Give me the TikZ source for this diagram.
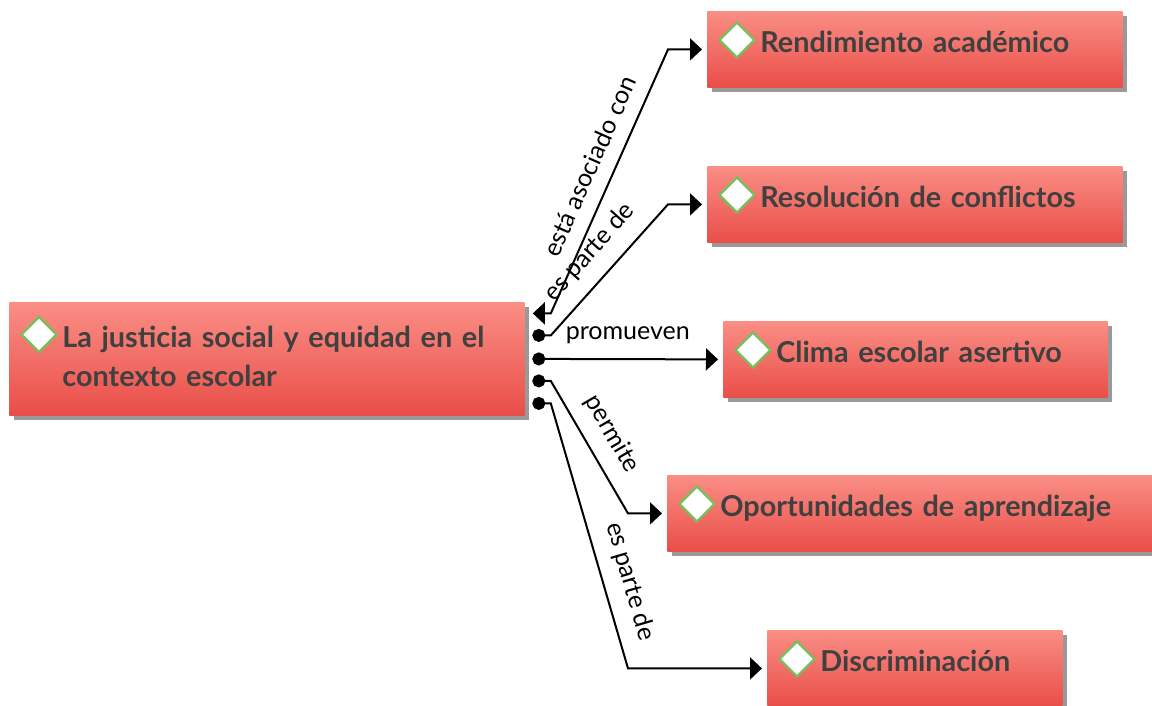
\documentclass[tikz,border=0pt]{standalone}
\usepackage{fontspec}
\setmainfont{Lato}
\usetikzlibrary{arrows.meta, calc, positioning, shapes.geometric, shadows}

\definecolor{boxtop}{HTML}{FA8E85}
\definecolor{boxbottom}{HTML}{E94E48}
\definecolor{gemgreen}{HTML}{78BE5A}
\definecolor{ink}{HTML}{404040}

\newcommand{\padtext}{\hspace*{26.5pt}}

\tikzset{
  topic/.style={rectangle, anchor=north west, top color=boxtop, bottom color=boxbottom, draw=none,
    drop shadow={shadow xshift=2.5pt, shadow yshift=-2.5pt, fill=black, opacity=0.4},
    minimum height=38pt, inner xsep=0pt, inner ysep=0pt, text width=#1, align=left,
    text height=10pt, text depth=7pt, text=ink, font=\bfseries\fontsize{14.4}{19.5}\selectfont},
  gem/.style={diamond, draw=gemgreen, line width=1.2pt, fill=white, minimum width=18pt, minimum height=18pt, inner sep=0pt},
  link/.style={line width=1pt, -{Triangle[length=6pt,width=11pt]}, shorten >=2.5pt},
  dotlink/.style={link, {Circle[length=6.5pt]}-{Triangle[length=6pt,width=11pt]}},
  lbl/.style={sloped, above=6pt, inner sep=1pt, font=\fontsize{12.5}{14}\selectfont}
}

\begin{document}
\begin{tikzpicture}[x=0.5pt, y=-0.5pt]
\useasboundingbox (0,0) rectangle (1152,706);

% Topics
\node[topic=257.5pt, minimum height=56.5pt, text depth=21.5pt] (main) at (9,302) {\padtext La justicia social y equidad en el\\\padtext contexto escolar};
\node[topic=207.5pt] (rend) at (707,11) {\padtext Rendimiento académico};
\node[topic=207.5pt] (reso) at (707,166) {\padtext Resolución de conflictos};
\node[topic=192pt] (clima) at (723,321) {\padtext Clima escolar asertivo};
\node[topic=247.5pt] (oport) at (667,475) {\padtext Oportunidades de aprendizaje};
\node[topic=147.5pt] (disc) at (767,630) {\padtext Discriminación};

% Icons
\node[gem] (gem-main) at ($(main.north west)+(30,32.5)$) {};
\foreach \n in {rend, reso, clima, oport, disc}
  \node[gem] (gem-\n) at ($(\n.north west)+(30,29)$) {};

% Links
\draw[link, {Triangle[length=6pt,width=11pt]}-{Triangle[length=6pt,width=11pt]}] ($(main.east)+(8,-45.5)$) -- ++(18,0)
  -- node[lbl, pos=0.52] {está asociado con} ($(rend.west)+(-39,0)$) -- (rend.west);
\draw[dotlink] ($(main.east)+(7.5,-23.5)$) -- ++(18.5,0)
  -- node[lbl] {es parte de} ($(reso.west)+(-39,0)$) -- (reso.west);
\draw[dotlink] ($(main.east)+(7.5,0)$) -- node[lbl] {promueven} (clima.west);
\draw[dotlink] ($(main.east)+(7.5,22)$) -- ++(18.5,0)
  -- node[lbl] {permite} ($(oport.west)+(-39,0)$) -- (oport.west);
\draw[dotlink] ($(main.east)+(7.5,44.5)$) -- ++(18.5,0)
  -- node[lbl, pos=0.7] {es parte de} ($(disc.west)+(-139,0)$) -- (disc.west);
\end{tikzpicture}
\end{document}
